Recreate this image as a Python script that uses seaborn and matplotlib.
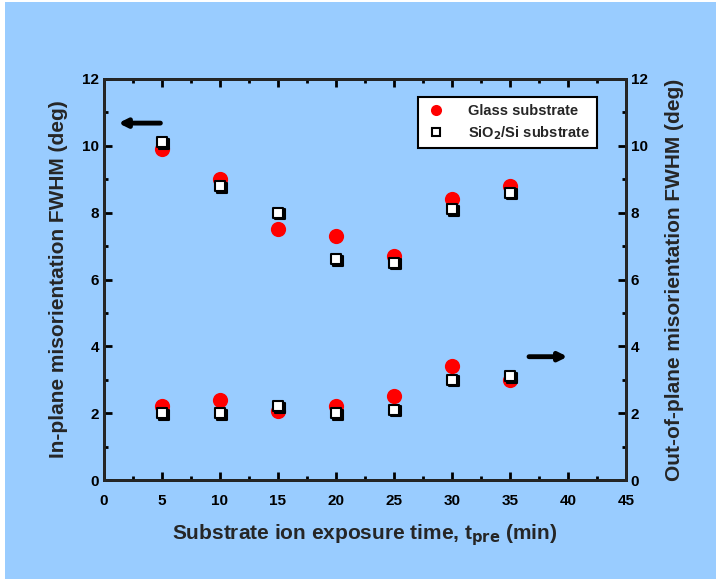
import matplotlib
matplotlib.use("Agg")
import matplotlib.pyplot as plt
import matplotlib.transforms as mtransforms
import seaborn as sns
import pandas as pd
import numpy as np
from matplotlib.ticker import MultipleLocator
from matplotlib.lines import Line2D

sns.set_theme(style="ticks")
plt.rcParams['font.family'] = ['Liberation Sans', 'DejaVu Sans']

time_min = [5, 10, 15, 20, 25, 30, 35]
# In-plane (left axis)
inplane_glass = [9.9, 9.0, 7.5, 7.3, 6.7, 8.4, 8.8]
inplane_sio2 = [10.1, 8.8, 8.0, 6.6, 6.5, 8.1, 8.6]
# Out-of-plane (right axis)
outplane_glass = [2.2, 2.4, 2.05, 2.2, 2.5, 3.4, 3.0]
outplane_sio2 = [2.0, 2.0, 2.2, 2.0, 2.1, 3.0, 3.1]

x_ticks = [0, 5, 10, 15, 20, 25, 30, 35, 40, 45]
y_ticks = [0, 2, 4, 6, 8, 10, 12]

bg = "#99ccff"
fig = plt.figure(figsize=(7.16, 5.79), dpi=100, facecolor=bg)
fig.patches.append(plt.Rectangle((0, 0), 5/716, 1, transform=fig.transFigure,
                                 facecolor="white", edgecolor="none", zorder=-1))
fig.patches.append(plt.Rectangle((0, 1-2/579), 1, 2/579, transform=fig.transFigure,
                                 facecolor="white", edgecolor="none", zorder=-1))
ax = fig.add_axes([104/716, (579-480)/579, (626-104)/716, (480-79)/579])
ax.set_facecolor(bg)

df_g = pd.DataFrame({"t": time_min * 2, "v": inplane_glass + outplane_glass})
df_s = pd.DataFrame({"t": time_min * 2, "v": inplane_sio2 + outplane_sio2})

sns.scatterplot(data=df_g, x="t", y="v", ax=ax, marker="o", s=120,
                color="#ff0000", edgecolor="#ff0000", linewidth=0, zorder=3)
# shadow squares (offset down-right) for the heavy bottom/right border look
shadow = mtransforms.offset_copy(ax.transData, fig=fig, x=1.2, y=-1.2, units="points")
sh = sns.scatterplot(data=df_s, x="t", y="v", ax=ax, marker="s", s=60,
                     color="black", edgecolor="black", linewidth=1.5, zorder=4)
sh.collections[-1].set_offset_transform(shadow)
sns.scatterplot(data=df_s, x="t", y="v", ax=ax, marker="s", s=50,
                color="white", edgecolor="black", linewidth=1.5, zorder=5)

ax.set_xlim(0, 45)
ax.set_ylim(0, 12)
ax.set_xticks(x_ticks)
ax.set_yticks(y_ticks)
ax.xaxis.set_minor_locator(MultipleLocator(2.5))
ax.yaxis.set_minor_locator(MultipleLocator(1))
ax.tick_params(which="both", direction="in", top=True, right=False, width=2,
               labelsize=11, colors="black")
ax.tick_params(which="major", length=6)
ax.tick_params(which="minor", length=3)
ax.tick_params(axis="x", which="major", pad=10)
for lbl in ax.get_xticklabels() + ax.get_yticklabels():
    lbl.set_fontweight("bold")
for sp in ax.spines.values():
    sp.set_linewidth(2)
    sp.set_color("black")

ax.set_xlabel("Substrate ion exposure time, t$_{\\mathbf{pre}}$ (min)",
              fontsize=15, fontweight="heavy", labelpad=10)
ax.set_ylabel("In-plane misorientation FWHM (deg)", fontsize=15,
              fontweight="heavy", labelpad=10)

ax2 = ax.twinx()
ax2.set_ylim(0, 12)
ax2.set_yticks(y_ticks)
ax2.yaxis.set_minor_locator(MultipleLocator(1))
ax2.tick_params(which="both", direction="in", width=2, labelsize=11, colors="black")
ax2.tick_params(which="major", length=6)
ax2.tick_params(which="minor", length=3)
for lbl in ax2.get_yticklabels():
    lbl.set_fontweight("bold")
ax2.set_ylabel("Out-of-plane misorientation FWHM (deg)", fontsize=15,
               fontweight="heavy", labelpad=12)
for sp in ax2.spines.values():
    sp.set_linewidth(2)

# arrows
ax.annotate("", xy=(1.0, 10.68), xytext=(5.1, 10.68),
            arrowprops=dict(arrowstyle="-|>", color="black", lw=3.5, mutation_scale=12))
ax.annotate("", xy=(40.2, 3.69), xytext=(36.4, 3.69),
            arrowprops=dict(arrowstyle="-|>", color="black", lw=3.5, mutation_scale=12))

handles = [
    Line2D([], [], marker="o", linestyle="none", markersize=8, color="#ff0000",
           markeredgewidth=0),
    Line2D([], [], marker="s", linestyle="none", markersize=6, markerfacecolor="white",
           markeredgecolor="black", markeredgewidth=1.5),
]
leg = ax.legend(handles, ["Glass substrate", "SiO$_\\mathbf{2}$/Si substrate"],
                loc="upper right", bbox_to_anchor=(0.945, 0.955), frameon=True,
                fancybox=False, edgecolor="black", facecolor="white", framealpha=1,
                prop={"size": 10.5, "weight": "bold"}, handletextpad=1.4,
                borderpad=0.45, labelspacing=0.45, borderaxespad=0,
                handlelength=1.6)
leg.get_frame().set_linewidth(1.5)

fig.savefig("out.png", dpi=100, facecolor=bg)
